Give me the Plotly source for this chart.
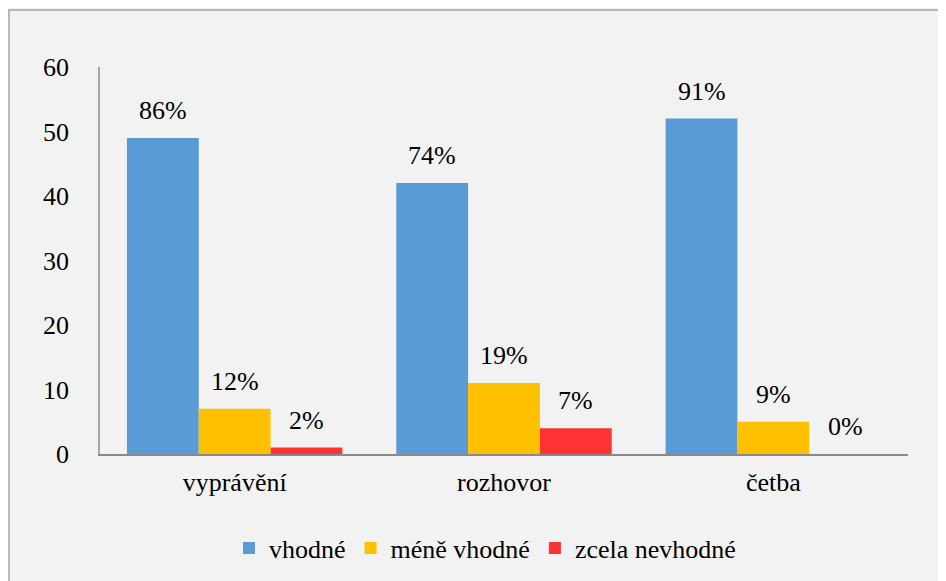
import plotly.graph_objects as go

categories = ["vyprávění", "rozhovor", "četba"]
series_names = ["vhodné", "méně vhodné", "zcela nevhodné"]
vhodne = [49, 42, 52]
mene_vhodne = [7, 11, 5]
zcela_nevhodne = [1, 4, 0]
labels_vhodne = ["86%", "74%", "91%"]
labels_mene = ["12%", "19%", "9%"]
labels_zcela = ["2%", "7%", "0%"]
colors = ["#5B9BD5", "#FFC000", "#FF3333"]
y_ticks = [0, 10, 20, 30, 40, 50, 60]

font = "Times New Roman, Liberation Serif, DejaVu Serif, serif"
FS = 26

# page has 8px body margin; work in reference pixels then offset
OFF = 8
W, H = 946 - OFF, 581 - OFF
L, R, T, B = 100 - OFF, 38, 67 - OFF, 127
pw, ph = W - L - R, H - T - B
BARGAP = 0.2
bar_px = pw / len(categories) * (1 - BARGAP) / len(series_names)

fig = go.Figure()
annotations = []
all_vals = [vhodne, mene_vhodne, zcela_nevhodne]
all_labs = [labels_vhodne, labels_mene, labels_zcela]
for i, (name, vals, labs, col) in enumerate(zip(series_names, all_vals, all_labs, colors)):
    fig.add_trace(go.Bar(x=categories, y=vals, name=name, marker_color=col,
                         marker_line_width=0))
    for c, v, lab in zip(categories, vals, labs):
        annotations.append(dict(x=c, y=v, text=lab, showarrow=False,
                                xshift=(i - 1) * bar_px, yshift=11,
                                yanchor="bottom", xanchor="center",
                                font=dict(family=font, size=FS, color="#000000")))

fig.update_layout(
    width=W, height=H, barmode="group", bargap=BARGAP, bargroupgap=0,
    margin=dict(l=L, r=R, t=T, b=B, pad=0),
    paper_bgcolor="#F2F2F2", plot_bgcolor="#F2F2F2",
    font=dict(family=font, size=FS, color="#000000"),
    showlegend=True,
    annotations=annotations,
    legend=dict(orientation="h", xref="container", yref="container",
                x=(485 - OFF) / W, xanchor="center", y=1 - (548 - OFF) / H, yanchor="middle",
                font=dict(family=font, size=FS), itemwidth=30,
                traceorder="normal"),
    xaxis=dict(showline=True, linecolor="#898989", linewidth=1.5, ticks="",
               tickfont=dict(family=font, size=FS), ticklabelstandoff=4),
    yaxis=dict(range=[0, 60], tickvals=y_ticks, showgrid=False, zeroline=False,
               showline=True, linecolor="#A6A6A6", linewidth=1.5, ticks="",
               tickfont=dict(family=font, size=FS), ticklabelstandoff=24),
    shapes=[dict(type="rect", xref="paper", yref="paper",
                 x0=(9 - 100) / pw, x1=(945 - 100) / pw,
                 y0=-(140) / ph, y1=(454 - 10) / ph,
                 line=dict(color="#A6A6A6", width=1.5), layer="below")],
)
fig.write_html("out.html")
